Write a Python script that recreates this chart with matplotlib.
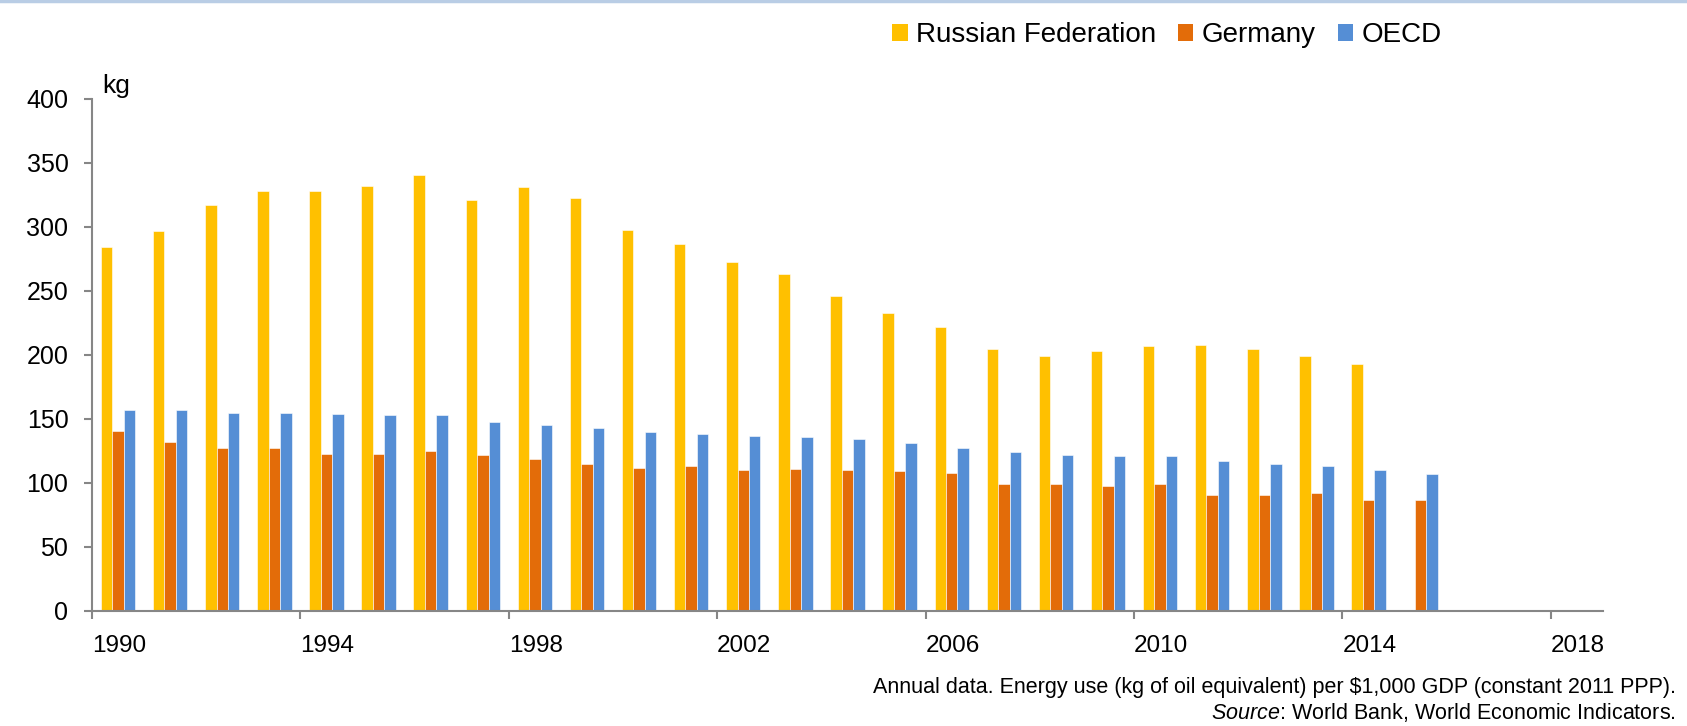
import numpy as np
import matplotlib
matplotlib.use("Agg")
from matplotlib import pyplot as plt
from matplotlib.lines import Line2D
from matplotlib.patches import Patch

years = np.arange(1990, 2016)
russia = [284, 297, 317, 328, 328, 332, 341, 321, 331, 323, 298, 287, 273, 263,
          246, 233, 222, 205, 199, 203, 207, 208, 205, 199, 193, np.nan]
germany = [141, 132, 127, 127, 123, 123, 125, 122, 119, 115, 112, 113, 110, 111,
           110, 109, 108, 99, 99, 98, 99, 91, 91, 92, 87, 87]
oecd = [157, 157, 155, 155, 154, 153, 153, 148, 145, 143, 140, 138, 137, 136,
        134, 131, 127, 124, 122, 121, 121, 117, 115, 113, 110, 107]
series_names = ["Russian Federation", "Germany", "OECD"]
colors = ["#FFC000", "#E36C09", "#558ED5"]
xticks = list(range(1990, 2019, 4))
yticks = list(range(0, 401, 50))

plt.rcParams['font.family'] = ['Liberation Sans', 'DejaVu Sans']
plt.rcParams['mathtext.fontset'] = 'custom'
plt.rcParams['mathtext.rm'] = 'Liberation Sans'
plt.rcParams['mathtext.it'] = 'Liberation Sans:italic'

W, H = 1687, 726
fig = plt.figure(figsize=(W / 100, H / 100), dpi=100)
ax = fig.add_axes([92 / W, 1 - 611 / H, (1603 - 92) / W, (611 - 99) / H])

width = 0.22
for i, (vals, col) in enumerate(zip([russia, germany, oecd], colors)):
    ax.bar(years + 0.5 + (i - 1) * width, vals, width=width, color=col,
           edgecolor="white", linewidth=0.4)

ax.set_xlim(1990, 2019)
ax.set_ylim(0, 400)
ax.set_xticks(xticks)
ax.set_yticks(yticks)
for s in ["top", "right"]:
    ax.spines[s].set_visible(False)
for s in ["left", "bottom"]:
    ax.spines[s].set_color("#868686")
    ax.spines[s].set_linewidth(1.5)
ax.tick_params(axis="both", direction="out", color="#868686", width=1.5,
               length=6, labelcolor="black")
ax.tick_params(axis="y", pad=11, labelsize=18)
ax.tick_params(axis="x", pad=11, labelsize=17.5)
for lab in ax.get_xticklabels():
    lab.set_horizontalalignment("left")

fig.text(102 / W, 1 - 86 / H, "kg", fontsize=19, va="center", ha="left")

handles = [Patch(facecolor=c, edgecolor="none") for c in colors]
fig.legend(handles, series_names, loc="center", bbox_to_anchor=(1167 / W, 1 - 35 / H),
           ncol=3, frameon=False, fontsize=20, handlelength=0.55, handleheight=0.55,
           handletextpad=0.3, columnspacing=0.8)

fig.text(1676 / W, 1 - 687 / H,
         "Annual data. Energy use (kg of oil equivalent) per $1,000 GDP (constant 2011 PPP).",
         fontsize=15.5, ha="right", va="center")
fig.text(1676 / W, 1 - 712 / H, r"$\it{Source}$: World Bank, World Economic Indicators.",
         fontsize=15.5, ha="right", va="center")

fig.add_artist(Line2D([0, 1], [1 - 1 / H, 1 - 1 / H], color="#B9CDE5", linewidth=2.5,
                      transform=fig.transFigure))

fig.savefig("out.png", dpi=100)
